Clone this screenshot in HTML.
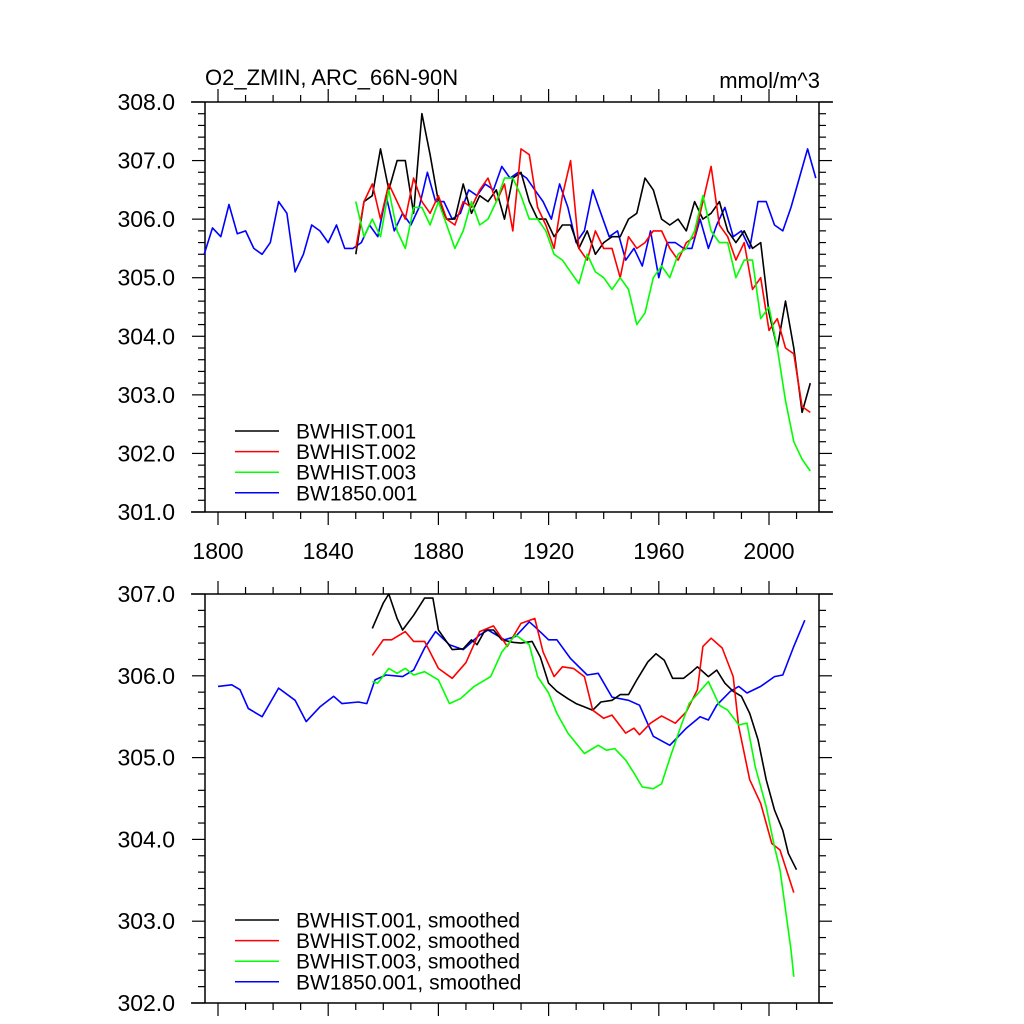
<!DOCTYPE html>
<html><head><meta charset="utf-8"><style>
html,body{margin:0;padding:0;background:#fff;}
svg{display:block;font-family:"Liberation Sans",sans-serif;}
</style></head><body>
<svg id="chart" width="1024" height="1024" xmlns="http://www.w3.org/2000/svg">
<g id="topPanel"></g>
<g id="botPanel"></g>
</svg>
<script>
// ---- top panel data (annual, raw) ----
const topBlueStart = 1795;
const topBlue = [305.4,305.85,305.7,306.25,305.75,305.8,305.5,305.4,305.6,306.3,306.1,305.1,305.4,305.9,305.8,305.6,305.9,305.5,305.5,305.6,305.9,305.7,306.4,305.8,306.1,305.9,306.2,306.8,306.3,306.3,306.0,306.1,306.5,306.4,306.6,306.5,306.9,306.7,306.8,306.7,306.5,306.3,306.0,306.6,306.2,305.6,305.8,306.5,306.1,305.7,305.8,305.3,305.5,305.2,305.8,305.0,305.6,305.6,305.5,305.5,306.0,305.5,305.9,306.2,305.7,305.8,305.5,306.3,306.3,305.9,305.8,306.2,306.7,307.2,306.7];
const topHistStart = 1850;
const topBlack = [305.4,306.3,306.4,307.2,306.5,307.0,307.0,306.1,307.8,307.1,306.3,306.0,306.0,306.6,306.1,306.4,306.3,306.5,306.0,306.7,306.8,306.3,306.0,306.0,305.7,305.9,305.9,305.5,305.8,305.4,305.6,305.7,305.7,306.0,306.1,306.7,306.5,306.0,305.9,306.0,305.8,306.3,306.0,306.1,306.3,305.8,305.6,305.8,305.5,305.6,304.4,303.8,304.6,303.8,302.7,303.2];
const topRed = [305.5,306.3,306.6,306.0,306.6,306.3,306.0,306.7,306.3,306.1,306.4,306.0,305.9,306.3,306.2,306.5,306.7,306.3,306.6,305.8,307.2,307.1,306.2,305.9,305.5,306.4,307.0,305.5,305.3,305.8,305.5,305.5,305.0,305.7,305.5,305.6,305.8,305.8,305.5,305.3,305.6,305.7,306.3,306.9,305.9,305.7,305.3,305.6,304.8,305.0,304.1,304.3,303.8,303.7,302.8,302.7];
const topGreen = [306.3,305.7,306.0,305.7,306.5,305.8,305.5,306.2,306.2,305.9,306.3,305.9,305.5,305.8,306.3,305.9,306.0,306.3,306.7,306.7,306.4,306.0,306.0,305.8,305.4,305.3,305.1,304.9,305.4,305.1,305.0,304.8,305.0,304.8,304.2,304.4,305.0,305.2,305.0,305.4,305.5,305.8,306.4,305.8,305.6,305.6,305.0,305.3,305.3,304.3,304.5,303.8,302.9,302.2,301.9,301.7];
const topStep = 3;
const xTickLabels = ["1800","1840","1880","1920","1960","2000"];
const topYTicks = ["301.0","302.0","303.0","304.0","305.0","306.0","307.0","308.0"];
const botYTicks = ["302.0","303.0","304.0","305.0","306.0","307.0"];
const topLegend = ["BWHIST.001","BWHIST.002","BWHIST.003","BW1850.001"];
const botLegend = ["BWHIST.001, smoothed","BWHIST.002, smoothed","BWHIST.003, smoothed","BW1850.001, smoothed"];

// ---- bottom panel data (smoothed) ----
const botBlackYears = [1856,1860,1862,1865,1867,1871,1875,1878,1880,1885,1889,1892,1894,1897,1900,1903,1907,1910,1914,1917,1920,1923,1927,1930,1933,1936,1939,1943,1946,1949,1952,1956,1959,1962,1965,1969,1972,1974,1978,1981,1984,1987,1990,1993,1996,1999,2002,2005,2007,2010];
const botBlack = [306.58,306.89,307.0,306.7,306.56,306.74,306.95,306.95,306.56,306.32,306.33,306.44,306.38,306.56,306.56,306.44,306.41,306.40,306.42,306.23,305.91,305.81,305.72,305.66,305.62,305.58,305.68,305.7,305.77,305.77,305.95,306.17,306.27,306.19,305.97,305.97,306.05,306.11,305.99,306.07,305.91,305.81,305.75,305.54,305.22,304.73,304.36,304.11,303.83,303.63];
const botRedYears = [1856,1860,1863,1868,1871,1875,1880,1885,1890,1895,1900,1905,1910,1915,1918,1922,1925,1929,1933,1936,1940,1943,1948,1951,1953,1957,1961,1966,1970,1974,1976,1979,1983,1987,1989,1993,1997,2001,2004,2009];
const botRed = [306.25,306.44,306.44,306.54,306.42,306.42,306.09,305.97,306.16,306.54,306.61,306.36,306.64,306.7,306.29,305.99,306.11,306.09,305.99,305.58,305.48,305.52,305.3,305.36,305.28,305.42,305.51,305.42,305.56,305.83,306.36,306.46,306.34,305.99,305.38,304.73,304.44,303.95,303.87,303.35];
const botGreenYears = [1856,1858,1862,1865,1868,1871,1875,1880,1884,1888,1893,1899,1903,1908,1913,1916,1920,1923,1927,1933,1938,1941,1944,1948,1951,1954,1958,1961,1964,1968,1971,1978,1982,1985,1989,1992,1995,1999,2002,2004,2008,2009];
const botGreen = [305.93,305.91,306.09,306.03,306.09,306.01,306.05,305.95,305.66,305.72,305.87,305.99,306.29,306.5,306.38,305.99,305.79,305.54,305.3,305.05,305.15,305.09,305.11,304.97,304.81,304.64,304.62,304.68,304.99,305.38,305.66,305.93,305.64,305.58,305.4,305.42,304.89,304.4,303.91,303.63,302.65,302.32];
const botBlueYears = [1800,1805,1808,1811,1816,1822,1828,1832,1837,1842,1845,1851,1854,1857,1861,1867,1871,1875,1879,1884,1889,1895,1898,1904,1908,1913,1915,1920,1923,1928,1934,1938,1943,1949,1953,1958,1964,1970,1975,1978,1981,1986,1989,1992,1997,2002,2005,2009,2013];
const botBlue = [305.87,305.89,305.83,305.6,305.5,305.85,305.7,305.44,305.62,305.75,305.66,305.68,305.66,305.95,306.01,305.99,306.07,306.34,306.54,306.38,306.32,306.5,306.56,306.44,306.48,306.66,306.6,306.44,306.44,306.21,306.01,306.03,305.74,305.7,305.64,305.26,305.15,305.36,305.5,305.46,305.64,305.81,305.87,305.79,305.87,305.99,306.01,306.36,306.68];

const NS = "http://www.w3.org/2000/svg";
function mk(parent, tag, attrs, text){
  const e = document.createElementNS(NS, tag);
  for (const k in attrs) e.setAttribute(k, attrs[k]);
  if (text !== undefined) e.textContent = text;
  parent.appendChild(e); return e;
}
const X0 = 205, X1 = 819, HL = 191, HR = 833;
function xs(yr){ return 218 + (yr - 1800) * 2.755; }
const colors = ["#000000","#ff0000","#00ff00","#0000ff"];

function drawPanel(g, yTop, yBot, vMin, vMax, yLabels, showX){
  const ys = v => yBot - (v - vMin) / (vMax - vMin) * (yBot - yTop);
  const sty = {stroke:"#000","stroke-width":"1.5"};
  let l;
  l = mk(g,"line",Object.assign({x1:HL,y1:yTop,x2:HR,y2:yTop},sty));
   
  l = mk(g,"line",Object.assign({x1:HL,y1:yBot,x2:HR,y2:yBot},sty));
   
  l = mk(g,"line",Object.assign({x1:X0,y1:yTop,x2:X0,y2:yBot},sty));
   
  l = mk(g,"line",Object.assign({x1:X1,y1:yTop,x2:X1,y2:yBot},sty));
   
  for (let yr = 1800; yr <= 2010; yr += 10){
    const x = xs(yr), major = (yr % 40 === 0);
    const len = major ? 13 : 7;
    mk(g,"line",{x1:x,y1:yBot,x2:x,y2:yBot+len,stroke:"#000","stroke-width":"1.2"});
    mk(g,"line",{x1:x,y1:yTop,x2:x,y2:yTop-len,stroke:"#000","stroke-width":"1.2"});
  }
  for (let v = vMin; v <= vMax + 1e-6; v += 0.2){
    const y = ys(v), major = Math.abs(v - Math.round(v)) < 1e-6;
    const len = major ? 13 : 7;
    mk(g,"line",{x1:X0,y1:y,x2:X0-len,y2:y,stroke:"#000","stroke-width":"1.2"});
    mk(g,"line",{x1:X1,y1:y,x2:X1+len,y2:y,stroke:"#000","stroke-width":"1.2"});
  }
  yLabels.forEach((t,i)=>{
    const e = mk(g,"text",{x:175,y:ys(vMin+i)+8,"text-anchor":"end","font-size":"23"},t);
     
  });
  if (showX){
    xTickLabels.forEach(t=>{
      const e = mk(g,"text",{x:xs(+t),y:yBot+47,"text-anchor":"middle","font-size":"23"},t);
       
    });
  }
  return ys;
}
function series(g, yrs, vals, ys, color, name){
  const pts = vals.map((v,i)=>xs(yrs[i]).toFixed(1)+","+ys(v).toFixed(1)).join(" ");
  const p = mk(g,"polyline",{points:pts,fill:"none",stroke:color,"stroke-width":"1.6","stroke-linejoin":"round"});
  
  
}
function legend(g, labels, y0){
  labels.forEach((t,i)=>{
    const y = y0 + i*20.6;
    const ln = mk(g,"line",{x1:235,y1:y,x2:279,y2:y,stroke:colors[i],"stroke-width":"1.5"});
     
    const e = mk(g,"text",{x:296,y:y+7.5,"font-size":"21"},t);
     
  });
}

const topG = document.getElementById("topPanel");
const ysT = drawPanel(topG, 102, 512, 301, 308, topYTicks, true);
const seqYears = (start,n)=>Array.from({length:n},(_,i)=>start+i*topStep);
series(topG, seqYears(topBlueStart, topBlue.length), topBlue, ysT, colors[3], "bw1850-001-line");
series(topG, seqYears(topHistStart, topBlack.length), topBlack, ysT, colors[0], "bwhist-001-line");
series(topG, seqYears(topHistStart, topRed.length), topRed, ysT, colors[1], "bwhist-002-line");
series(topG, seqYears(topHistStart, topGreen.length), topGreen, ysT, colors[2], "bwhist-003-line");
legend(topG, topLegend, 431);
let tt = mk(topG,"text",{x:205,y:85,"font-size":"22"},"O2_ZMIN, ARC_66N-90N");
 
tt = mk(topG,"text",{x:820,y:88,"font-size":"22","text-anchor":"end"},"mmol/m^3");
 

const botG = document.getElementById("botPanel");
const ysB = drawPanel(botG, 594, 1003, 302, 307, botYTicks, false);
series(botG, botBlueYears, botBlue, ysB, colors[3], "bw1850-001-smoothed-line");
series(botG, botBlackYears, botBlack, ysB, colors[0], "bwhist-001-smoothed-line");
series(botG, botRedYears, botRed, ysB, colors[1], "bwhist-002-smoothed-line");
series(botG, botGreenYears, botGreen, ysB, colors[2], "bwhist-003-smoothed-line");
legend(botG, botLegend, 920);
</script>
</body></html>
